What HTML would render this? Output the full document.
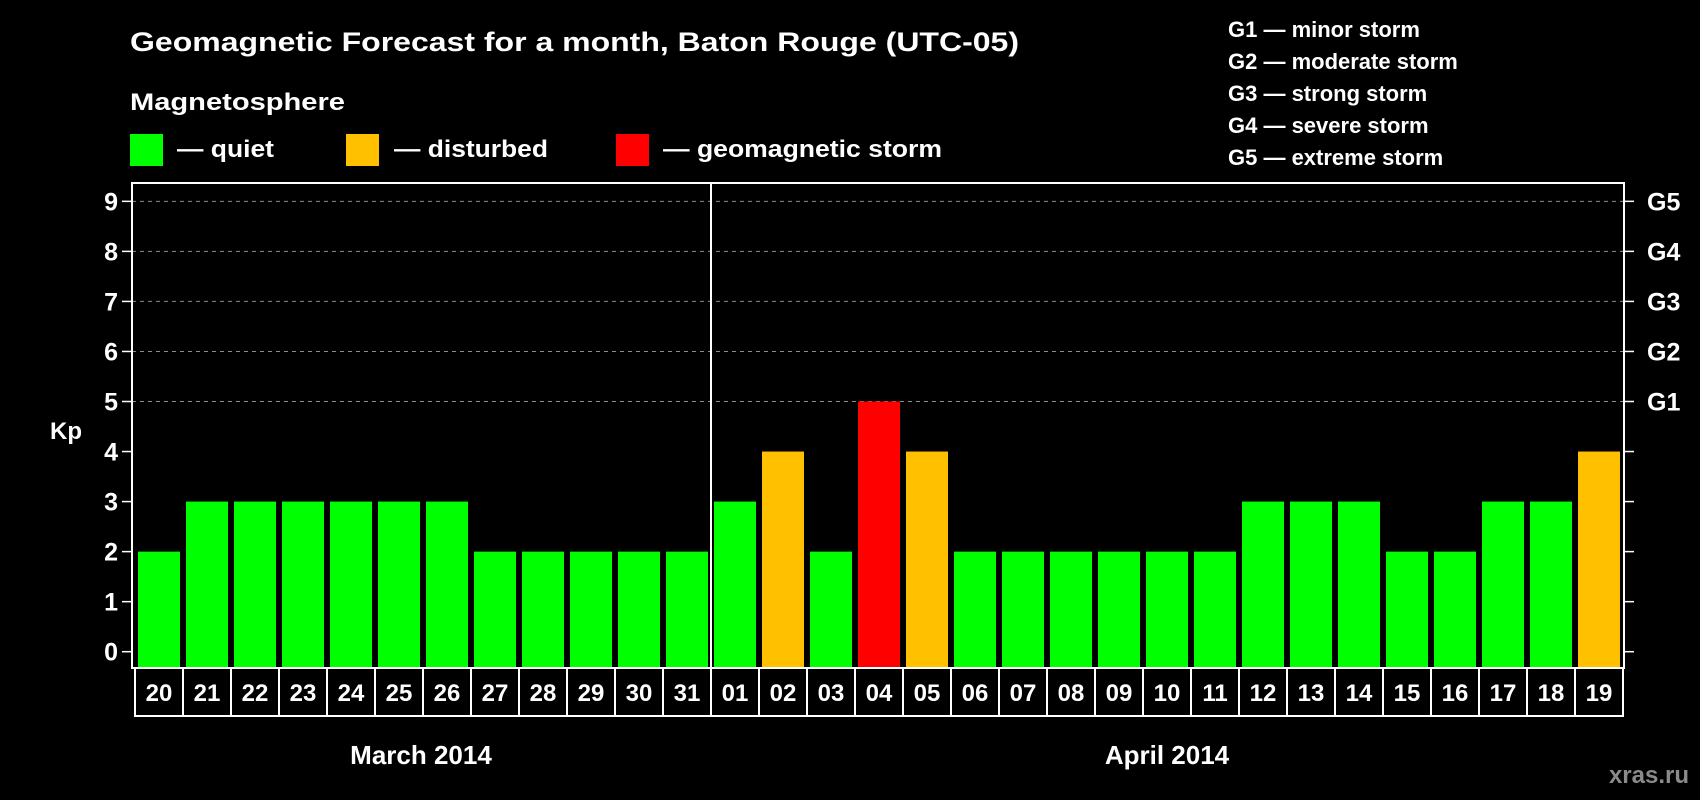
<!DOCTYPE html>
<html><head><meta charset="utf-8"><style>
html,body{margin:0;padding:0;background:#000;}
svg{display:block;font-family:"Liberation Sans",Arial,sans-serif;font-weight:bold;}
</style></head><body>
<svg id="chart" width="1700" height="800" viewBox="0 0 1700 800" xmlns="http://www.w3.org/2000/svg">
<rect x="0" y="0" width="1700" height="800" fill="#000"/>
<text x="130" y="51" font-size="27" fill="#fff" textLength="889" lengthAdjust="spacingAndGlyphs">Geomagnetic Forecast for a month, Baton Rouge (UTC-05)</text>
<text x="130" y="110" font-size="24" fill="#fff" textLength="215" lengthAdjust="spacingAndGlyphs">Magnetosphere</text>
<rect x="130" y="134" width="33" height="32" fill="#00ff00"/>
<text x="177" y="157" font-size="24" fill="#fff" textLength="97" lengthAdjust="spacingAndGlyphs">— quiet</text>
<rect x="346" y="134" width="33" height="32" fill="#ffc000"/>
<text x="394" y="157" font-size="24" fill="#fff" textLength="154" lengthAdjust="spacingAndGlyphs">— disturbed</text>
<rect x="616" y="134" width="33" height="32" fill="#ff0000"/>
<text x="663" y="157" font-size="24" fill="#fff" textLength="279" lengthAdjust="spacingAndGlyphs">— geomagnetic storm</text>
<g font-size="22" fill="#fff">
<text x="1228" y="37">G1 — minor storm</text>
<text x="1228" y="69">G2 — moderate storm</text>
<text x="1228" y="101">G3 — strong storm</text>
<text x="1228" y="133">G4 — severe storm</text>
<text x="1228" y="165">G5 — extreme storm</text>
</g>
<text x="66" y="439" font-size="24" fill="#fff" text-anchor="middle">Kp</text>
<text x="1689" y="783" font-size="24" fill="#8a8a8a" text-anchor="end">xras.ru</text>
<g id="plot"></g>
</svg>
<script>
const days = ["20","21","22","23","24","25","26","27","28","29","30","31","01","02","03","04","05","06","07","08","09","10","11","12","13","14","15","16","17","18","19"];
const kpValues = [2,3,3,3,3,3,3,2,2,2,2,2,3,4,2,5,4,2,2,2,2,2,2,3,3,3,2,2,3,3,4];
const yTicks = [0,1,2,3,4,5,6,7,8,9];
const gLabels = ["G1","G2","G3","G4","G5"];
const gLevels = [5,6,7,8,9];
const months = ["March 2014","April 2014"];
const monthStartIdx = [0,12];

const NS = "http://www.w3.org/2000/svg";
const plot = document.getElementById('plot');
const L = 132, R = 1624, T = 183, B = 668;
const Y0 = 651.7, UNIT = 50.04;
const X0 = 134, STEP = 48;
function y(v){ return Y0 - v*UNIT; }
function xSlot(i){ return X0 + i*STEP; }
function mk(tag, attrs){ const e = document.createElementNS(NS, tag); for (const k in attrs) e.setAttribute(k, attrs[k]); plot.appendChild(e); return e; }
function color(v){ return v >= 5 ? "#ff0000" : (v >= 4 ? "#ffc000" : "#00ff00"); }

// grid lines
gLevels.forEach(function(v){
  const g = mk('line', {x1:L, x2:R, y1:y(v), y2:y(v), stroke:'#8c8c8c', 'stroke-width':1, 'stroke-dasharray':'4 4'});
  
  
});
// bars
kpValues.forEach(function(v, i){
  const b = mk('rect', {x:xSlot(i)+4, y:y(v), width:42, height:B - y(v) - 1, fill:color(v)});
  
  
});
// frame
const fr = mk('rect', {x:L, y:T, width:R-L, height:B-T, fill:'none', stroke:'#fff', 'stroke-width':2});


// month separator
monthStartIdx.slice(1).forEach(function(idx){
  const s = mk('line', {x1:xSlot(idx)+1, x2:xSlot(idx)+1, y1:T, y2:B, stroke:'#fff', 'stroke-width':2});
  
  
});
// y ticks + labels
yTicks.forEach(function(v){
  const t = mk('line', {x1:L-10, x2:L, y1:y(v), y2:y(v), stroke:'#fff', 'stroke-width':1.5});
  
  
  const t2 = mk('line', {x1:R, x2:R+10, y1:y(v), y2:y(v), stroke:'#fff', 'stroke-width':1.5});
  
  
  const lb = mk('text', {x:118, y:y(v)+9, 'font-size':25, fill:'#fff', 'text-anchor':'end'});
  lb.textContent = String(v);
  
  
});
gLabels.forEach(function(g, i){
  const lb = mk('text', {x:1647, y:y(gLevels[i])+9, 'font-size':25, fill:'#fff'});
  lb.textContent = g;
  
  
});
// day boxes
const dayBox = mk('rect', {x:135, y:B, width:1623-135, height:48, fill:'none', stroke:'#fff', 'stroke-width':2});


days.forEach(function(d, i){
  if (i > 0) {
    const dv = mk('line', {x1:135+i*STEP, x2:135+i*STEP, y1:B, y2:B+48, stroke:'#fff', 'stroke-width':2});
    
    
  }
  const t = mk('text', {x:xSlot(i)+25, y:701, 'font-size':24, fill:'#fff', 'text-anchor':'middle'});
  t.textContent = d;
  
  
});
// month labels
months.forEach(function(m, k){
  const s = k === 0 ? L : xSlot(monthStartIdx[k]);
  const e = k + 1 < months.length ? xSlot(monthStartIdx[k+1]) : R;
  const t = mk('text', {x:(s+e)/2, y:764, 'font-size':26, fill:'#fff', 'text-anchor':'middle'});
  t.textContent = m;
  
  
});
</script>
</body></html>
